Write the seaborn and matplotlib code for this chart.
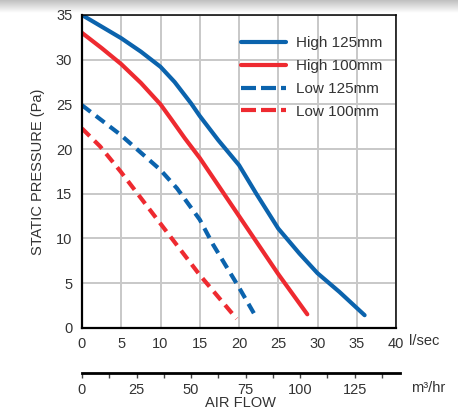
import numpy as np
import pandas as pd
import matplotlib
matplotlib.use("Agg")
import matplotlib.pyplot as plt
import seaborn as sns

# Fan curves (airflow l/sec, static pressure Pa)
high125_flow = [0, 2.5, 5, 7.5, 10, 11.8, 13.9, 15, 17.35, 20, 22.2, 25, 27.7, 30, 32.8, 36.0]
high125_pres = [35, 33.7, 32.4, 30.9, 29.2, 27.5, 25.1, 23.7, 21.0, 18.2, 15.0, 11.1, 8.3, 6.1, 4.0, 1.4]

high100_flow = [0, 2.5, 5, 7.5, 10, 11.4, 13.1, 15, 20, 25, 28.7]
high100_pres = [33.0, 31.3, 29.5, 27.4, 25.0, 23.3, 21.2, 19.0, 12.5, 6.0, 1.5]

low125_flow = [0, 4.9, 9.95, 12.1, 15, 16.7, 20, 22.3]
low125_pres = [24.9, 21.6, 17.7, 15.6, 12.1, 9.3, 4.5, 1.0]

low100_flow = [0, 2.3, 4.9, 9.95, 15, 19.7]
low100_pres = [22.3, 20.3, 17.5, 11.7, 5.9, 1.0]

x_ticks = [0, 5, 10, 15, 20, 25, 30, 35, 40]
y_ticks = [0, 5, 10, 15, 20, 25, 30, 35]
m3_ticks = [0, 25, 50, 75, 100, 125]
LS_TO_M3 = 3.6

BLUE = '#0b63ad'
RED = '#ee2a30'
TXT = '#333333'
GRID = '#c8c8c8'

sns.set_style("white", {'axes.edgecolor': 'black'})
plt.rcParams['font.family'] = ['Liberation Sans', 'DejaVu Sans']

fig = plt.figure(figsize=(4.58, 4.12), dpi=100)

# faint shadow strip along the top of the screenshot
sh = fig.add_axes([0, 1 - 13 / 412, 1, 13 / 412])
grad = np.linspace(0.75, 1.0, 50).reshape(-1, 1)
sh.imshow(grad, aspect='auto', cmap='gray', vmin=0, vmax=1, extent=[0, 1, 0, 1])
sh.axis('off')

ax = fig.add_axes([82 / 458, 1 - 327.7 / 412, 314 / 458, 312.7 / 412])

dash = (0, (2.6, 1.6))
sns.lineplot(x=high125_flow, y=high125_pres, ax=ax, color=BLUE, linewidth=3,
             label='High 125mm', sort=False, zorder=3)
sns.lineplot(x=high100_flow, y=high100_pres, ax=ax, color=RED, linewidth=3,
             label='High 100mm', sort=False, zorder=3)
sns.lineplot(x=low125_flow, y=low125_pres, ax=ax, color=BLUE, linewidth=3,
             linestyle=dash, dash_capstyle='butt', label='Low 125mm', sort=False, zorder=3)
sns.lineplot(x=low100_flow, y=low100_pres, ax=ax, color=RED, linewidth=3,
             linestyle=dash, dash_capstyle='butt', label='Low 100mm', sort=False, zorder=3)

# grid drawn straight from the tick lists
for xv in x_ticks:
    ax.axvline(xv, color=GRID, linewidth=1.4, zorder=1)
for yv in y_ticks:
    ax.axhline(yv, color=GRID, linewidth=1.4, zorder=1)

ax.set_xlim(0, 40)
ax.set_ylim(0, 35)
ax.set_xticks(x_ticks)
ax.set_yticks(y_ticks)
ax.tick_params(length=0, labelsize=10.5, labelcolor=TXT)
ax.tick_params(axis='x', pad=7)
ax.tick_params(axis='y', pad=7)
for side in ['left', 'bottom']:
    ax.spines[side].set_linewidth(1.6)
for side in ['top', 'right']:
    ax.spines[side].set_linewidth(1.1)
for s in ax.spines.values():
    s.set_color('black')
    s.set_visible(True)
    s.set_zorder(4)

ax.set_xlabel('')
ax.set_ylabel('STATIC PRESSURE (Pa)', fontsize=10.5, color=TXT, labelpad=8)
ax.text(1.041, -0.043, 'l/sec', transform=ax.transAxes, ha='left', va='center',
        fontsize=10.5, color=TXT)

leg = ax.legend(loc='upper left', bbox_to_anchor=(0.505, 0.932), frameon=False,
                fontsize=11, handlelength=3.0, handletextpad=0.6,
                labelspacing=0.58, borderpad=0, borderaxespad=0)
for t in leg.get_texts():
    t.set_color(TXT)
for ln in leg.get_lines()[2:]:
    ln.set_linestyle((0, (3.6, 1.2)))

# second scale in m3/hr
ax2 = fig.add_axes([82 / 458, 1 - 373 / 412, 318 / 458, 0.0001])
ax2.set_yticks([])
for side in ['left', 'right', 'top']:
    ax2.spines[side].set_visible(False)
ax2.spines['bottom'].set_visible(True)
ax2.spines['bottom'].set_linewidth(2.0)
ax2.spines['bottom'].set_color('black')
ax2.set_xticks(m3_ticks)
ax2.set_xticks(np.array(m3_ticks + [150]) - 12.5, minor=True)
ax2.tick_params(axis='x', which='both', direction='out', length=3.5, width=1.0,
                color='#444444', labelsize=10.5, labelcolor=TXT, pad=4, bottom=True)
ax2.set_xlim(0, 318 / 7.85 * LS_TO_M3)
ax2.patch.set_visible(False)

fig.text(411 / 458, 1 - 388 / 412, 'm³/hr', ha='left', va='center', fontsize=10.5, color=TXT)
fig.text(240.5 / 458, 1 - 403 / 412, 'AIR FLOW', ha='center', va='center', fontsize=10.5, color=TXT)

fig.savefig('out.png', dpi=100)
